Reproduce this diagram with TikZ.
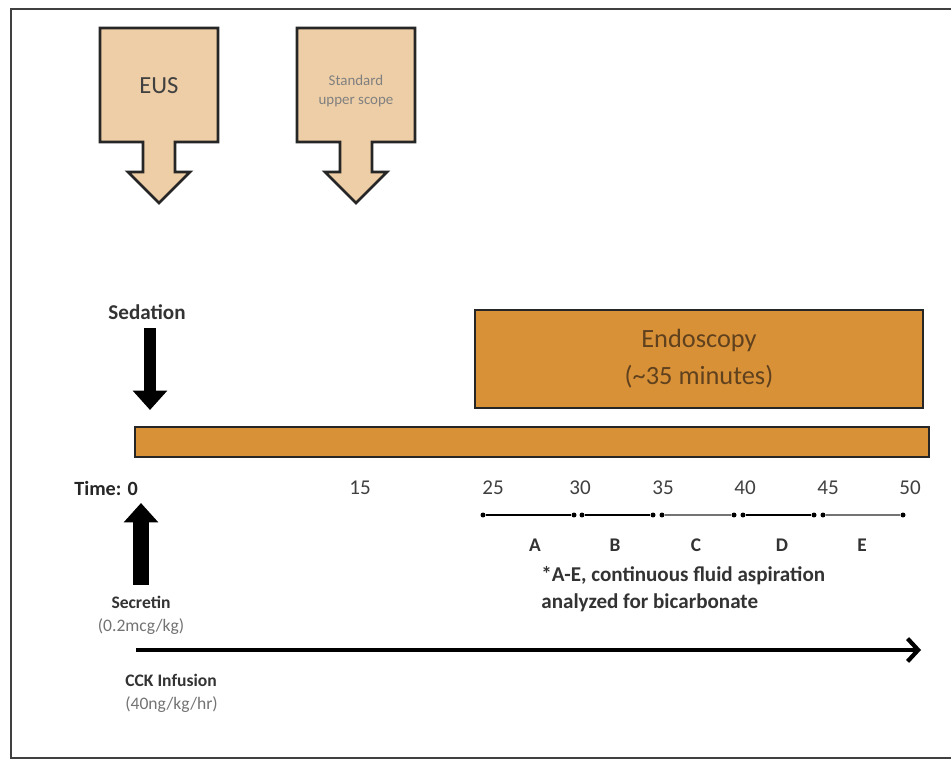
\documentclass[tikz,border=0pt]{standalone}
\usepackage{fontspec}
\setmainfont{Carlito}
\usetikzlibrary{arrows.meta,positioning}

\begin{document}
\begin{tikzpicture}[
            x=0.02cm,y=-0.02cm
        ]
            \definecolor{tan}{RGB}{238,206,166}
            \definecolor{orng}{RGB}{217,145,55}
            \definecolor{brwn}{RGB}{95,65,30}
            \colorlet{txtg}{black!55}
            \tikzset{
                tanbox/.style={draw=black!85,line width=1.6pt,fill=tan,line join=miter},
                orngbox/.style={draw=black!85,line width=1.3pt,fill=orng,inner sep=0pt},
                fatarrow/.style={line width=#1,-{Triangle[width=19pt,length=11pt]}},
                dot/.style={circle,fill=black,inner sep=0pt,minimum size=1mm},
                lbl/.style={font=\fontsize{10}{12}\selectfont\bfseries,text=black!80},
                sub/.style={font=\fontsize{10}{12}\selectfont,text=txtg},
                tick/.style={font=\fontsize{12}{14}\selectfont,text=black!75}
            }
            \useasboundingbox (0,0) rectangle (951,760);

            % frame, open to the right
            \draw [black!75,line width=1.3pt] (951,9) -- (11,9) -- (11,758) -- (951,758);

            % scope arrows
            \foreach \cx in {159,356}
                \draw [tanbox] (\cx-59,28) -- (\cx+59,28) -- (\cx+59,142) -- (\cx+16,142) -- (\cx+16,172)
                    -- (\cx+31,172) -- (\cx,203) -- (\cx-31,172) -- (\cx-16,172) -- (\cx-16,142) -- (\cx-59,142) -- cycle;
            \node (eus) at (159,86) [font=\fontsize{14}{16}\selectfont,text=black!75] {EUS};
            \node (std) at (356,91) [font=\fontsize{8.5}{11}\selectfont,text=black!50,align=center] {Standard\\upper scope};

            % bars
            \node (endo) at (699,359) [orngbox,minimum width=8.96cm,minimum height=1.96cm,
                font=\fontsize{15}{21}\selectfont,text=brwn,align=center] {Endoscopy\\(\textasciitilde35 minutes)};
            \node (bar) at (532,442) [orngbox,minimum width=15.88cm,minimum height=0.6cm] {};

            % sedation
            \node (sed) at (147,312) [lbl,font=\fontsize{12}{14}\selectfont\bfseries] {Sedation};
            \coordinate (sedtop) at (150,328);
            \coordinate (sedtip) at (150,410);
            \draw [fatarrow=6.3pt] (sedtop) -- (sedtip);

            % time axis
            \node (t0) at (144,488) [tick,anchor=east,text=black!85,font=\fontsize{11.5}{14}\selectfont\bfseries] {Time: 0};
            \foreach \x/\t in {360/15,493/25,580/30,663/35,745/40,828/45,910/50}
                \node (t\t) at (\x,488) [tick] {\t};

            % sampling periods
            \foreach \a/\b/\l/\lx/\c in {483/574/A/535/black,582/653/B/615/black,662/734/C/696/black!55,743/814/D/782/black,823/903/E/862/black!55}{
                \node (s\l) at (\a,515) [dot] {};
                \node (e\l) at (\b,515) [dot] {};
                \draw [\c,line width=0.8pt] (s\l) -- (e\l);
                \node (l\l) at (\lx,545) [lbl,font=\fontsize{11}{13}\selectfont\bfseries] {\l};
            }
            \node (note) at (541,589) [anchor=west,align=left,lbl,font=\fontsize{12}{15.5}\selectfont\bfseries,inner sep=0pt]
                {*A-E, continuous fluid aspiration\\analyzed for bicarbonate};

            % secretin
            \coordinate (secbot) at (141,585);
            \coordinate (sectip) at (141,503);
            \draw [fatarrow=9.5pt] (secbot) -- (sectip);
            \node (sec) at (141,602) [lbl] {Secretin};
            \node (secd) at (141,627) [sub] {(0.2mcg/kg)};

            % CCK infusion
            \coordinate (cckst) at (136,650);
            \coordinate (cckend) at (921,650);
            \draw [line width=2.4pt,-{Straight Barb[length=6pt,width=13pt]}] (cckst) -- (cckend);
            \node (cck) at (125,680) [lbl,anchor=west,inner sep=0pt] {CCK Infusion};
            \node (cckd) at (125,705) [sub,anchor=west,inner sep=0pt] {(40ng/kg/hr)};
        \end{tikzpicture}
\end{document}
